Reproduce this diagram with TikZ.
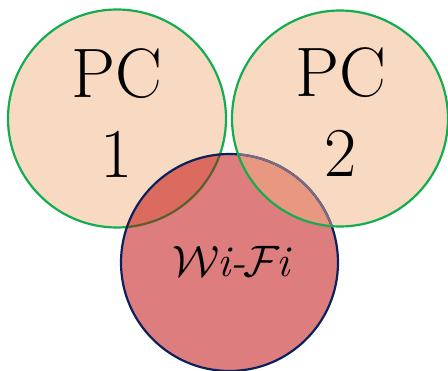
\RequirePackage{fix-cm}
\documentclass[tikz,border=0pt]{standalone}
\definecolor{peach}{HTML}{F8D9C2}
\definecolor{wifired}{HTML}{DE7D7D}
\definecolor{ovlone}{HTML}{DA6B5E}
\definecolor{ovltwo}{HTML}{E89880}
\definecolor{pcgreen}{HTML}{12AD4F}
\definecolor{navyb}{HTML}{0B215E}
\definecolor{oliveb}{HTML}{5E5E2A}
\definecolor{grayb}{HTML}{7A6C80}
\tikzset{
  ring/.style={line width=2.2pt},
  bigtxt/.style={font=\fontsize{70}{80}\selectfont, inner sep=0pt, anchor=base},
  wifitxt/.style={font=\fontsize{44}{50}\selectfont, inner sep=0pt, anchor=base}
}
\begin{document}
\begin{tikzpicture}[x=1pt,y=-1pt]
\useasboundingbox (0,0) rectangle (448,371);
\coordinate (c1) at (117,118.5);
\coordinate (c2) at (340,118.5);
\coordinate (cw) at (229.5,262.5);
% PC1
\fill[peach] (c1) circle[radius=109pt];
\draw[ring, pcgreen] (c1) circle[radius=109pt];
% PC2 fill
\fill[peach] (c2) circle[radius=108pt];
% Wi-Fi fill
\fill[wifired] (cw) circle[radius=108.5pt];
% overlap PC1 & Wi-Fi
\begin{scope}
  \clip (cw) circle[radius=108.5pt];
  \fill[ovlone] (c1) circle[radius=109pt];
  \draw[ring, oliveb] (c1) circle[radius=109pt];
\end{scope}
% overlap PC2 & Wi-Fi
\begin{scope}
  \clip (cw) circle[radius=108.5pt];
  \fill[ovltwo] (c2) circle[radius=108pt];
\end{scope}
% Wi-Fi border
\draw[ring, navyb] (cw) circle[radius=108.5pt];
\begin{scope}
  \clip (c2) circle[radius=108pt];
  \draw[ring, grayb] (cw) circle[radius=108.5pt];
\end{scope}
% PC2 border
\draw[ring, pcgreen] (c2) circle[radius=108pt];
% texts
\node[bigtxt] (pc1a) at (117,98) {PC};
\node[bigtxt] (pc1b) at (117,178) {1};
\node[bigtxt] (pc2a) at (341,97) {PC};
\node[bigtxt] (pc2b) at (341,177) {2};
\node[wifitxt] (wifi) at (232,277) {$\mathcal{W}$\kern-0.05em\textit{i-}\kern-0.05em$\mathcal{F}$\kern-0.08em\textit{i}};
\end{tikzpicture}
\end{document}
